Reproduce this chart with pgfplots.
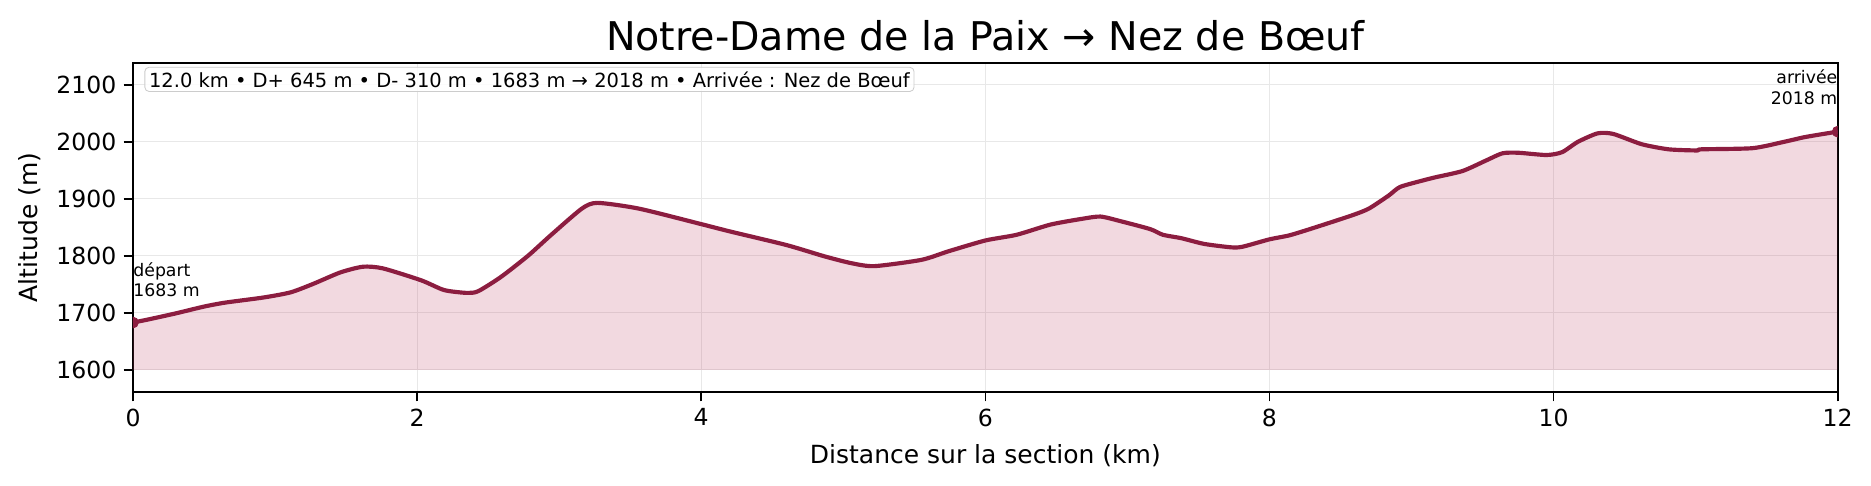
\documentclass[border=0pt]{standalone}
\usepackage{fontspec}
\setmainfont{DejaVu Sans}
\usepackage{pgfplots}
\usepackage{pgfplotstable}
\pgfplotsset{compat=1.18}
\usepgfplotslibrary{fillbetween}
\usetikzlibrary{calc}

\definecolor{ligne}{HTML}{8C1D40}
\definecolor{remplissage}{RGB}{190,65,100}
\definecolor{grille}{HTML}{E8E8E8}

% profil altimetrique (km, m)
\pgfplotstableread{
km    alt
0.00  1683
0.10  1688
0.30  1699
0.50  1711
0.65  1718
0.92  1727
1.11  1736
1.27  1751
1.46  1771
1.62  1781
1.76  1778
2.03  1757
2.19  1740
2.35  1735
2.43  1738
2.59  1763
2.78  1800
2.94  1836
3.16  1883
3.27  1893
3.56  1883
3.98  1857
4.20  1843
4.60  1819
4.87  1799
5.06  1787
5.22  1782
5.55  1793
5.74  1808
6.00  1827
6.22  1837
6.46  1855
6.68  1865
6.81  1869
6.95  1861
7.16  1847
7.25  1837
7.38  1831
7.54  1821
7.73  1815
7.81  1816
8.00  1829
8.14  1836
8.31  1849
8.58  1871
8.70  1883
8.84  1906
8.92  1921
9.09  1933
9.17  1938
9.36  1949
9.53  1968
9.64  1980
9.75  1981
9.95  1977
10.06 1982
10.17 2000
10.31 2015
10.42 2014
10.62 1996
10.81 1987
11.01 1985
11.04 1987
11.40 1989
11.62 2000
11.76 2008
11.90 2014
12.00 2018
}\profil

\begin{document}
\begin{tikzpicture}
\begin{axis}[
    name=ax,
    scale only axis,
    width=818.3pt, height=158.1pt,
    xmin=0, xmax=12, ymin=1561, ymax=2139,
    xtick={0,2,...,12},
    ytick={1600,1700,...,2100},
    grid=major,
    major grid style={grille, line width=0.5pt},
    axis line style={line width=0.8pt},
    tick align=outside, tick pos=left,
    major tick length=4.5pt,
    every tick/.style={black, line width=0.8pt},
    /pgf/number format/assume math mode=true,
    /pgf/number format/1000 sep={},
    tick label style={font=\fontsize{11.3}{13}\selectfont},
    label style={font=\fontsize{12}{14}\selectfont},
    title={Notre-Dame de la Paix → Nez de Bœuf},
    title style={font=\fontsize{19}{22}\selectfont, at={(0.5,1)}, anchor=base, yshift=-0.2pt},
    xlabel={Distance sur la section (km)},
    ylabel={Altitude (m)},
    xlabel style={at={(0.5,0)}, anchor=base, yshift=-34.2pt},
    ylabel style={at={(0,0.5)}, anchor=base, yshift=46pt},
]
\addplot[name path=prof, draw=none, smooth, tension=0.4] table[x=km, y=alt] {\profil};
\addplot[name path=base, draw=none] coordinates {(0,1600) (12,1600)};
\addplot[fill=remplissage, fill opacity=0.2, draw=none] fill between[of=prof and base];
\addplot[ligne, line width=2pt, line join=round, smooth, tension=0.4] table[x=km, y=alt] {\profil};
\addplot[only marks, mark=*, mark size=2.6pt, ligne, clip marker paths=true] coordinates {(0,1683) (12,2018)};

\node[anchor=south west, align=left, inner sep=0pt, font=\fontsize{8.3}{10}\selectfont]
    at (axis cs:0,1683) [yshift=12pt] {départ\\1683 m};
\node[anchor=south east, align=right, inner sep=0pt, font=\fontsize{8.3}{10}\selectfont]
    at (axis cs:12,2018) [yshift=12.7pt] {arrivée\\2018 m};
\node[anchor=north west, draw=gray!40, rounded corners=2pt, fill=white, fill opacity=0.85,
      text opacity=1, inner sep=2pt, font=\fontsize{9.35}{11}\selectfont]
    at (rel axis cs:0,1) [xshift=5.5pt, yshift=-2pt]
    {12.0 km • D+ 645 m • D- 310 m • 1683 m → 2018 m • Arrivée : Nez de Bœuf};
\end{axis}
\pgfresetboundingbox
\path ($(ax.south west)+(-63.84pt,-44.64pt)$) rectangle ($(ax.north east)+(16pt,30.1pt)$);
\end{tikzpicture}
\end{document}
